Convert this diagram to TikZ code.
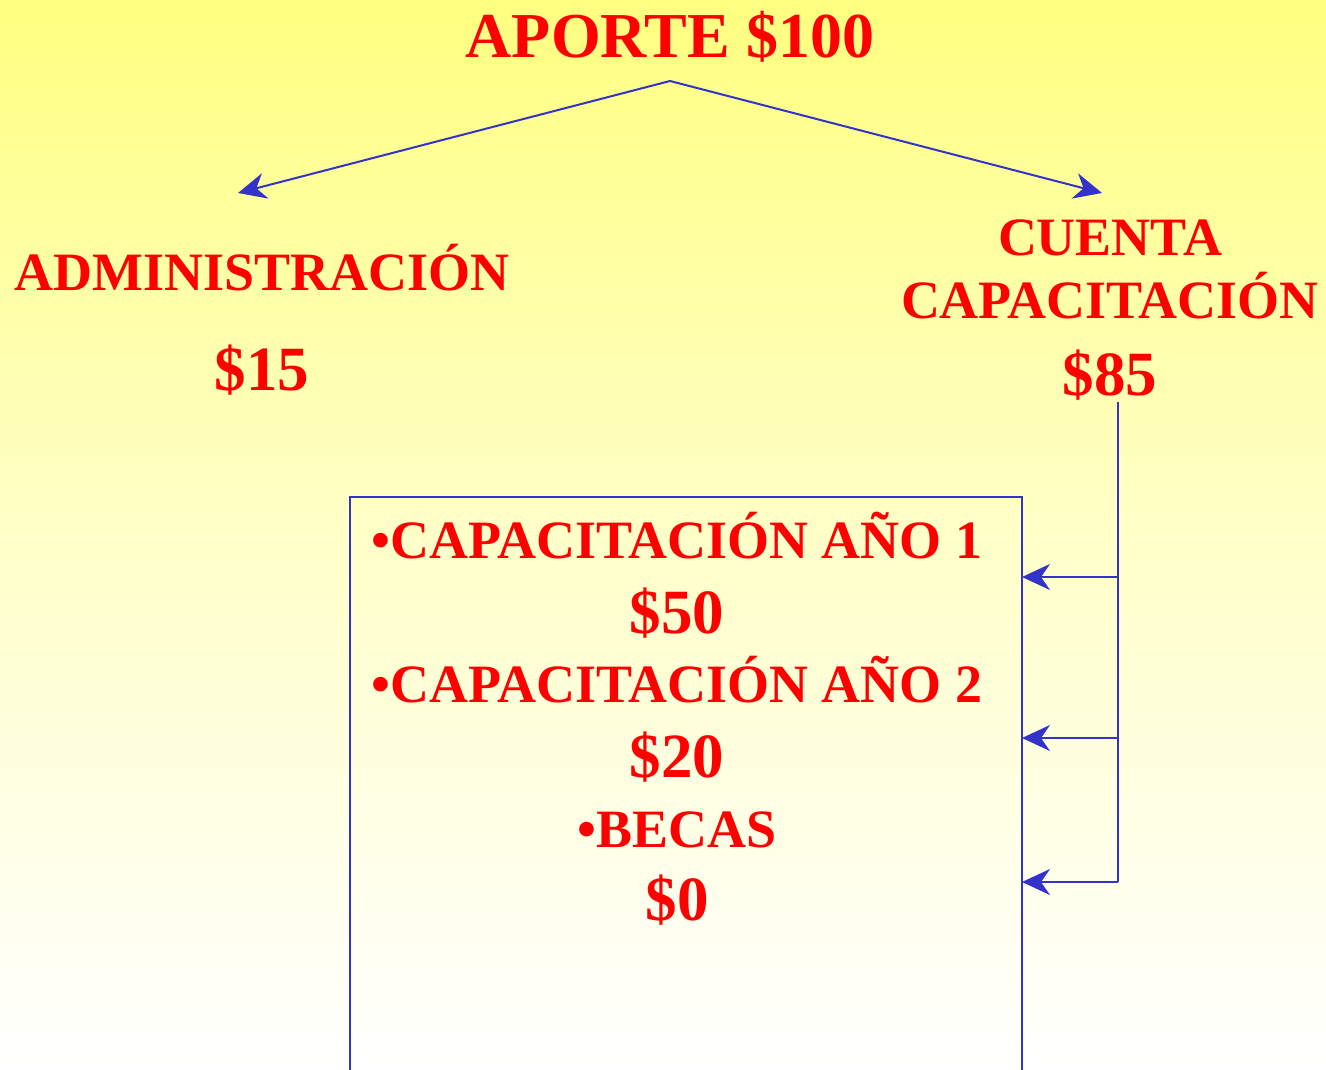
\documentclass[tikz,border=0pt]{standalone}
\usepackage{fontspec}
\setmainfont{Liberation Serif}
\usetikzlibrary{arrows.meta}
\definecolor{linkblue}{RGB}{51,51,204}
\definecolor{txtred}{RGB}{255,0,0}
\definecolor{bgyellow}{RGB}{255,255,128}
\begin{document}
\begin{tikzpicture}[x=1pt,y=-1pt,
  wordtxt/.style={text=txtred,font=\bfseries\fontsize{54}{60}\selectfont,anchor=base,inner sep=0pt},
  amttxt/.style={text=txtred,font=\bfseries\fontsize{63}{72}\selectfont,anchor=base,inner sep=0pt},
  conn/.style={draw=linkblue,line width=2pt,-{Stealth[length=28pt,width=26pt,inset=9pt]}},
  boxline/.style={draw=linkblue,line width=2pt}]
\useasboundingbox (0,0) rectangle (1326,1069);
\clip (0,0) rectangle (1326,1069);
\shade[top color=bgyellow,bottom color=white,middle color={rgb,255:red,255;green,255;blue,200}] (0,0) rectangle (1326,1069);
% texts
\node[amttxt,font=\bfseries\fontsize{64}{72}\selectfont] (aporte) at (670,57) {APORTE \$100};
\node[wordtxt] (admin) at (262,290) {ADMINISTRACIÓN};
\node[amttxt] (a15) at (262,390) {\$15};
\node[wordtxt] (cuenta) at (1110,255) {CUENTA};
\node[wordtxt] (capac) at (1110,318) {CAPACITACIÓN};
\node[amttxt] (a85) at (1110,395) {\$85};
% box
\coordinate (boxtl) at (350,497);
\coordinate (boxbr) at (1022,1090);
\draw[boxline] (boxtl) rectangle (boxbr);
\node[wordtxt] (cap1) at (677,558) {•CAPACITACIÓN AÑO 1};
\node[amttxt] (a50) at (677,633) {\$50};
\node[wordtxt] (cap2) at (677,702) {•CAPACITACIÓN AÑO 2};
\node[amttxt] (a20) at (677,777) {\$20};
\node[wordtxt] (becas) at (677,847) {•BECAS};
\node[amttxt] (a0) at (677,920) {\$0};
% connectors
\coordinate (apex) at (670,81);
\coordinate (admintip) at (238,193);
\coordinate (cuentatip) at (1102,193);
\draw[conn] (apex) -- (admintip);
\draw[conn] (apex) -- (cuentatip);
\coordinate (bktop) at (1118,402);
\coordinate (bk1) at (1118,577);
\coordinate (bk2) at (1118,738);
\coordinate (bk3) at (1118,882);
\coordinate (in1) at (1022,577);
\coordinate (in2) at (1022,738);
\coordinate (in3) at (1022,882);
\draw[boxline] (bktop) -- (bk3);
\draw[conn] (bk1) -- (in1);
\draw[conn] (bk2) -- (in2);
\draw[conn] (bk3) -- (in3);
\end{tikzpicture}
\end{document}
